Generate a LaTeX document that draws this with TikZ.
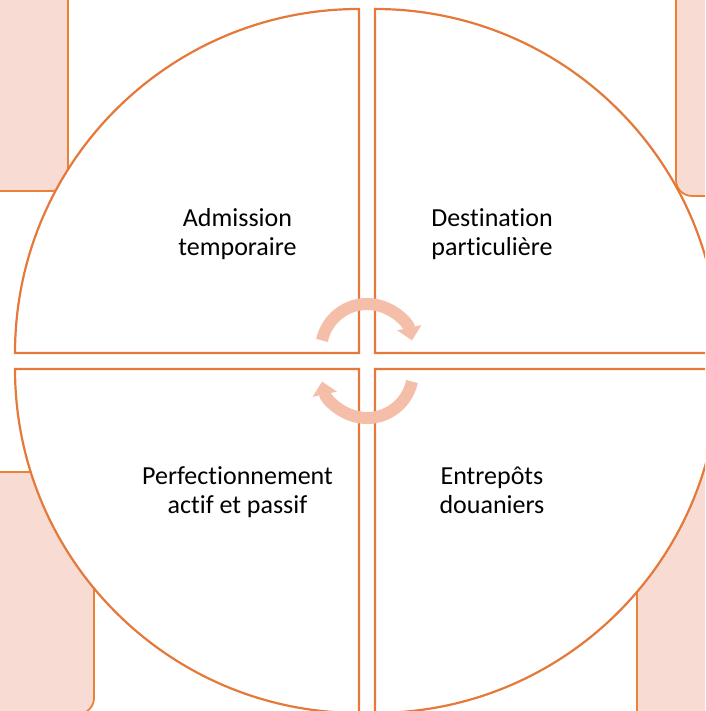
\documentclass[tikz,border=0pt]{standalone}
\usepackage{fontspec}
\setmainfont{Carlito}[Ligatures={NoCommon,NoRequired,NoContextual,NoRare},RawFeature={-liga;-clig;-calt;-dlig}]
\usetikzlibrary{arrows.meta}
\definecolor{accent}{HTML}{E5793A}
\definecolor{accentline}{HTML}{EC8138}
\definecolor{paleaccent}{HTML}{F8DBD3}
\definecolor{cyclearrow}{HTML}{F5BEA9}
\tikzset{
  cornerbox/.style={fill=paleaccent, draw=accentline, line width=1.8pt, rounded corners=16pt},
  quarter/.style={fill=white, draw=accent, line width=2.2pt, line join=miter},
  cyclebend/.style={draw=cyclearrow, line width=12pt, line cap=butt,
    -{Triangle[width=24pt,length=13pt]}},
  label/.style={font=\fontsize{26}{29}\selectfont, align=center, text=black, inner sep=0pt}
}
\begin{document}
\begin{tikzpicture}[x=1pt,y=1pt]
  \useasboundingbox (0,0) rectangle (705,711);
  \clip (0,0) rectangle (705,711);

  % rounded boxes peeking out from behind the quarters
  \path[cornerbox] (-30,520) rectangle (68,740);
  \path[cornerbox] (676,515) rectangle (740,740);
  \path[cornerbox] (-30,-3) rectangle (94,239);
  \path[cornerbox] (637,-30) rectangle (740,261);

  % the four quarter discs
  \path[quarter] (359,358) -- (15,358) arc[start angle=180, end angle=90, radius=344] -- cycle;
  \path[quarter] (375,358) -- (375,702) arc[start angle=90, end angle=0, radius=344] -- cycle;
  \path[quarter] (359,342) -- (15,342) arc[start angle=180, end angle=270, radius=344] -- cycle;
  \path[quarter] (375,342) -- (719,342) arc[start angle=0, end angle=-90, radius=344] -- cycle;

  % circular arrows in the middle
  \coordinate (upper) at (367,361);
  \coordinate (lower) at (367,339);
  \path[cyclebend] (upper) ++(168:46) arc[start angle=168, end angle=12, radius=46];
  \path[cyclebend] (lower) ++(-12:46) arc[start angle=-12, end angle=-168, radius=46];

  % labels
  \node[label] (adm) at (237.5,476) {\strut Admission\\\strut temporaire};
  \node[label] (dest) at (492,476) {\strut Destination\\\strut particulière};
  \node[label] (perf) at (237.5,218) {\strut Perfectionnement\\\strut actif et passif};
  \node[label] (entr) at (492,218) {\strut Entrepôts\\\strut douaniers};
\end{tikzpicture}
\end{document}
